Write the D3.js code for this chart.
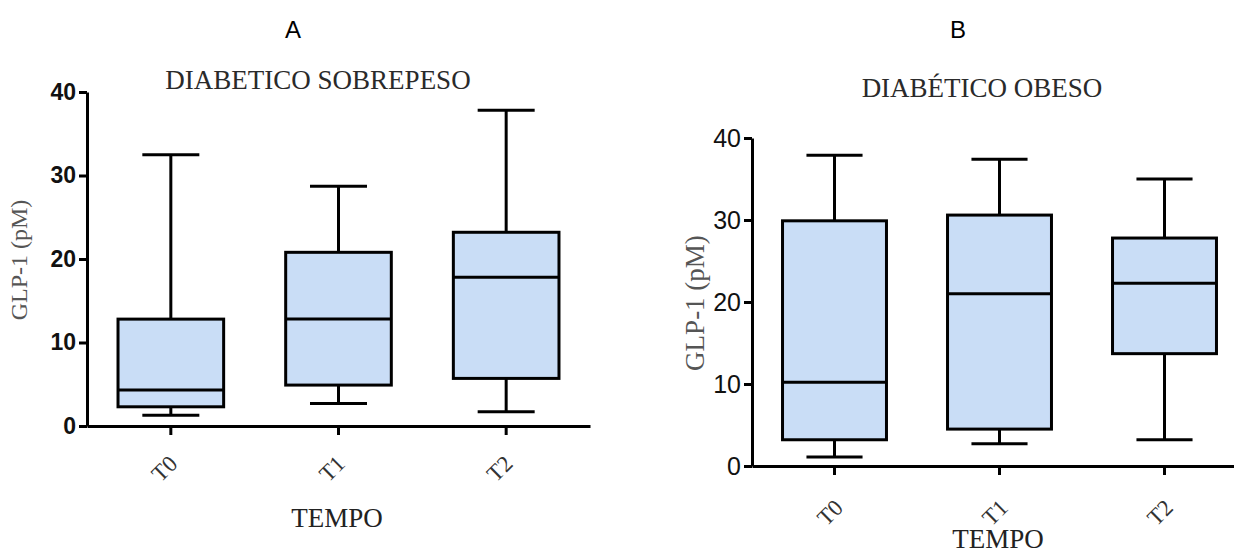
<!DOCTYPE html>
<html>
<head>
<meta charset="utf-8">
<script src="https://cdn.jsdelivr.net/npm/d3@7"></script>
<style>
    body { margin: 0; background: #fff; }
    .axis path, .axis line { stroke: #000; stroke-width: 3; }
    .box { fill: #c9ddf6; stroke: #000; stroke-width: 3; }
    .whisker { stroke: #000; stroke-width: 3; }
</style>
</head>
<body>
<script>
const groups = ['T0', 'T1', 'T2'];
const yTicks = [0, 10, 20, 30, 40];

// A: diabetico sobrepeso
const minA = [1.3, 2.7, 1.7];
const q1A = [2.3, 4.9, 5.7];
const medA = [4.3, 12.8, 17.8];
const q3A = [12.8, 20.8, 23.2];
const maxA = [32.5, 28.7, 37.8];

// B: diabetico obeso
const minB = [1.1, 2.7, 3.2];
const q1B = [3.2, 4.5, 13.7];
const medB = [10.2, 21.0, 22.3];
const q3B = [29.9, 30.6, 27.8];
const maxB = [37.9, 37.4, 35.0];

const svg = d3.select('body')
    .append('svg')
    .attr('width', 1234)
    .attr('height', 554);

function panel(cfg) {
    const data = groups.map(function(g, i) {
        return { g: g, min: cfg.min[i], q1: cfg.q1[i], med: cfg.med[i], q3: cfg.q3[i], max: cfg.max[i] };
    });

    const x = d3.scaleBand().domain(groups).range(cfg.xRange).padding(0);
    const y = d3.scaleLinear().domain([0, 40]).range(cfg.yRange);

    const g = svg.append('g');

    const boxW = x.bandwidth() * 0.63;
    const capW = x.bandwidth() * 0.34;
    const cx = function(d) { return x(d.g) + x.bandwidth() / 2; };

    const b = g.selectAll('.bp')
        .data(data)
        .enter()
        .append('g')
        .attr('class', 'bp');

    // whiskers
    b.append('line').attr('class', 'whisker')
        .attr('x1', cx).attr('x2', cx)
        .attr('y1', function(d) { return y(d.max); })
        .attr('y2', function(d) { return y(d.q3); });
    b.append('line').attr('class', 'whisker')
        .attr('x1', cx).attr('x2', cx)
        .attr('y1', function(d) { return y(d.q1); })
        .attr('y2', function(d) { return y(d.min); });
    b.append('line').attr('class', 'whisker')
        .attr('x1', function(d) { return cx(d) - capW / 2; })
        .attr('x2', function(d) { return cx(d) + capW / 2; })
        .attr('y1', function(d) { return y(d.max); })
        .attr('y2', function(d) { return y(d.max); });
    b.append('line').attr('class', 'whisker')
        .attr('x1', function(d) { return cx(d) - capW / 2; })
        .attr('x2', function(d) { return cx(d) + capW / 2; })
        .attr('y1', function(d) { return y(d.min); })
        .attr('y2', function(d) { return y(d.min); });

    b.append('rect').attr('class', 'box')
        .attr('x', function(d) { return cx(d) - boxW / 2; })
        .attr('width', boxW)
        .attr('y', function(d) { return y(d.q3); })
        .attr('height', function(d) { return y(d.q1) - y(d.q3); });

    b.append('line').attr('class', 'whisker')
        .attr('x1', function(d) { return cx(d) - boxW / 2; })
        .attr('x2', function(d) { return cx(d) + boxW / 2; })
        .attr('y1', function(d) { return y(d.med); })
        .attr('y2', function(d) { return y(d.med); });

    // axes
    const yAxis = d3.axisLeft(y).tickValues(yTicks).tickSize(8).tickSizeOuter(0).tickPadding(3);
    const yg = g.append('g')
        .attr('class', 'axis')
        .attr('transform', 'translate(' + cfg.xRange[0] + ',0)')
        .call(yAxis);
    yg.selectAll('text')
        .style('font-family', 'Liberation Sans, Arial, sans-serif')
        .style('font-size', cfg.tickFont + 'px')
        .style('font-weight', cfg.tickWeight)
        .attr('fill', '#111');

    const xAxis = d3.axisBottom(x).tickSize(9).tickSizeOuter(0);
    const xg = g.append('g')
        .attr('class', 'axis')
        .attr('transform', 'translate(0,' + cfg.yRange[0] + ')')
        .call(xAxis);
    xg.selectAll('text')
        .attr('y', 0).attr('dy', 0)
        .attr('transform', 'translate(' + cfg.lblDx + ',' + cfg.lblDy + ') rotate(-45)')
        .style('text-anchor', 'end')
        .style('font-family', 'Liberation Serif, Times New Roman, serif')
        .style('font-size', '23px')
        .attr('fill', '#333');

    // titles
    svg.append('text')
        .attr('x', cfg.letterX).attr('y', 38)
        .attr('text-anchor', 'middle')
        .style('font-family', 'Liberation Sans, Arial, sans-serif')
        .style('font-size', '24px')
        .text(cfg.letter);

    svg.append('text')
        .attr('x', cfg.titleX).attr('y', cfg.titleY)
        .attr('text-anchor', 'middle')
        .style('font-family', 'Liberation Serif, Times New Roman, serif')
        .style('font-size', '27px')
        .attr('fill', '#2a2a2a')
        .text(cfg.title);

    svg.append('text')
        .attr('transform', 'translate(' + cfg.ylabX + ',' + cfg.ylabY + ') rotate(-90)')
        .attr('text-anchor', 'middle')
        .style('font-family', 'Liberation Serif, Times New Roman, serif')
        .style('font-size', cfg.ylabFont + 'px')
        .attr('fill', '#555')
        .text('GLP-1 (pM)');

    svg.append('text')
        .attr('x', cfg.tempoX).attr('y', cfg.tempoY)
        .attr('text-anchor', 'middle')
        .style('font-family', 'Liberation Serif, Times New Roman, serif')
        .style('font-size', '27px')
        .attr('fill', '#222')
        .text('TEMPO');
}

panel({
    min: minA, q1: q1A, med: medA, q3: q3A, max: maxA,
    xRange: [87, 590], yRange: [426, 92],
    tickFont: 23, tickWeight: 'bold',
    lblDx: 8, lblDy: 39,
    letter: 'A', letterX: 293,
    title: 'DIABETICO SOBREPESO', titleX: 318, titleY: 89,
    ylabX: 27, ylabY: 260, ylabFont: 24,
    tempoX: 337, tempoY: 527
});

panel({
    min: minB, q1: q1B, med: medB, q3: q3B, max: maxB,
    xRange: [752, 1247], yRange: [466, 138],
    tickFont: 25, tickWeight: 'normal',
    lblDx: 10, lblDy: 43,
    letter: 'B', letterX: 958,
    title: 'DIABÉTICO OBESO', titleX: 982, titleY: 97,
    ylabX: 704, ylabY: 303, ylabFont: 27,
    tempoX: 998, tempoY: 548
});
</script>
</body>
</html>
